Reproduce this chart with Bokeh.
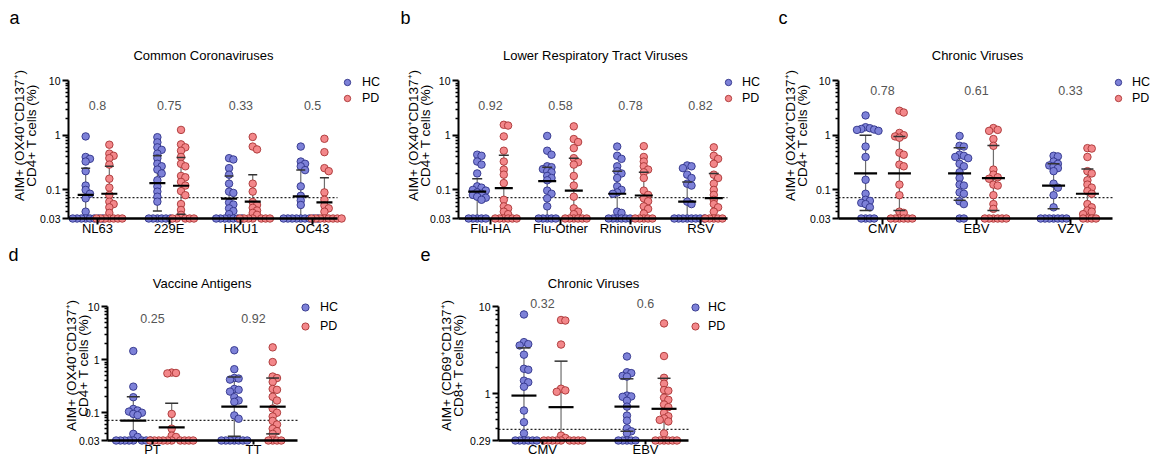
import numpy as np
from bokeh.plotting import figure
from bokeh.models import (FixedTicker, Label, Legend, LegendItem, Range1d)
from bokeh.layouts import column, row
from bokeh.embed import file_html
from bokeh.resources import INLINE

FONT = "Liberation Sans"
HC_FILL, HC_LINE = "#7d81d8", "#2f3288"
PD_FILL, PD_LINE = "#f3878a", "#a83434"

# ======================= DATA =======================
# ---- panel a : Common Coronaviruses (CD4) ----
a_categories = ["NL63", "229E", "HKU1", "OC43"]
a_pvalues = ["0.8", "0.75", "0.33", "0.5"]
a_hc = [
    [0.95, 0.40, 0.37, 0.33, 0.22, 0.12, 0.10, 0.085, 0.07, 0.04, 0.03, 0.03, 0.03, 0.03, 0.03, 0.03, 0.03, 0.03],
    [0.92, 0.74, 0.60, 0.54, 0.46, 0.38, 0.30, 0.27, 0.235, 0.20, 0.15, 0.115, 0.093, 0.075, 0.061, 0.03, 0.03, 0.03, 0.03, 0.03, 0.03],
    [0.38, 0.36, 0.25, 0.19, 0.13, 0.093, 0.088, 0.059, 0.054, 0.046, 0.041, 0.036, 0.03, 0.03, 0.03, 0.03, 0.03, 0.03, 0.03],
    [0.62, 0.33, 0.30, 0.27, 0.23, 0.116, 0.078, 0.064, 0.053, 0.03, 0.03, 0.03, 0.03, 0.03, 0.03, 0.03, 0.03, 0.03],
]
a_pd = [
    [0.67, 0.46, 0.42, 0.38, 0.29, 0.16, 0.11, 0.081, 0.061, 0.055, 0.048, 0.038, 0.03, 0.03, 0.03, 0.03, 0.03, 0.03, 0.03],
    [1.25, 0.68, 0.60, 0.52, 0.40, 0.30, 0.27, 0.18, 0.17, 0.14, 0.12, 0.095, 0.08, 0.055, 0.043, 0.035, 0.03, 0.03, 0.03, 0.03, 0.03],
    [0.93, 0.62, 0.55, 0.13, 0.093, 0.06, 0.053, 0.047, 0.042, 0.038, 0.035, 0.03, 0.03, 0.03, 0.03, 0.03, 0.03, 0.03],
    [0.86, 0.49, 0.25, 0.22, 0.09, 0.066, 0.052, 0.046, 0.04, 0.03, 0.03, 0.03, 0.03, 0.03, 0.03, 0.03, 0.03],
]
a_hc_mean = [0.081, 0.133, 0.069, 0.076]
a_hc_upper = [0.25, 0.42, 0.18, 0.23]
a_hc_lower = [0.03, 0.041, 0.03, 0.03]
a_pd_mean = [0.085, 0.119, 0.061, 0.059]
a_pd_upper = [0.27, 0.39, 0.19, 0.167]
a_pd_lower = [0.03, 0.036, 0.03, 0.03]

# ---- panel b : Lower Respiratory Tract Viruses (CD4) ----
b_categories = ["Flu-HA", "Flu-Other", "Rhinovirus", "RSV"]
b_pvalues = ["0.92", "0.58", "0.78", "0.82"]
b_hc = [
    [0.44, 0.42, 0.33, 0.29, 0.20, 0.116, 0.11, 0.10, 0.097, 0.09, 0.085, 0.081, 0.075, 0.072, 0.066, 0.03, 0.03, 0.03, 0.03, 0.03],
    [0.97, 0.52, 0.44, 0.27, 0.26, 0.24, 0.22, 0.21, 0.18, 0.165, 0.15, 0.097, 0.085, 0.07, 0.05, 0.03, 0.03, 0.03, 0.03, 0.03],
    [0.62, 0.42, 0.37, 0.27, 0.22, 0.20, 0.165, 0.116, 0.10, 0.09, 0.085, 0.04, 0.038, 0.03, 0.03, 0.03, 0.03, 0.03, 0.03],
    [0.28, 0.27, 0.25, 0.19, 0.165, 0.13, 0.12, 0.061, 0.055, 0.03, 0.03, 0.03, 0.03, 0.03, 0.03, 0.03, 0.03],
]
b_pd = [
    [1.55, 1.5, 0.95, 0.52, 0.33, 0.235, 0.19, 0.133, 0.066, 0.05, 0.046, 0.04, 0.036, 0.03, 0.03, 0.03, 0.03, 0.03, 0.03],
    [1.45, 0.85, 0.75, 0.58, 0.38, 0.32, 0.29, 0.18, 0.12, 0.075, 0.046, 0.04, 0.036, 0.03, 0.03, 0.03, 0.03, 0.03, 0.03],
    [0.63, 0.40, 0.33, 0.27, 0.235, 0.21, 0.165, 0.097, 0.081, 0.07, 0.062, 0.05, 0.045, 0.037, 0.03, 0.03, 0.03, 0.03, 0.03],
    [0.60, 0.42, 0.37, 0.30, 0.19, 0.165, 0.13, 0.10, 0.081, 0.066, 0.055, 0.048, 0.04, 0.03, 0.03, 0.03, 0.03, 0.03],
]
b_hc_mean = [0.093, 0.145, 0.085, 0.061]
b_hc_upper = [0.16, 0.26, 0.22, 0.14]
b_hc_lower = [0.03, 0.03, 0.03, 0.03]
b_pd_mean = [0.108, 0.097, 0.079, 0.071]
b_pd_upper = [0.43, 0.38, 0.21, 0.20]
b_pd_lower = [0.03, 0.03, 0.03, 0.03]

# ---- panel c : Chronic Viruses (CD4) ----
c_categories = ["CMV", "EBV", "VZV"]
c_pvalues = ["0.78", "0.61", "0.33"]
c_hc = [
    [2.3, 1.4, 1.34, 1.3, 1.27, 1.25, 1.2, 0.62, 0.40, 0.153, 0.085, 0.066, 0.063, 0.058, 0.055, 0.048, 0.03, 0.03, 0.03, 0.03],
    [0.97, 0.64, 0.62, 0.44, 0.42, 0.40, 0.38, 0.30, 0.27, 0.21, 0.165, 0.125, 0.12, 0.09, 0.085, 0.062, 0.055, 0.03, 0.03],
    [0.42, 0.41, 0.33, 0.30, 0.28, 0.27, 0.25, 0.22, 0.13, 0.11, 0.08, 0.048, 0.03, 0.03, 0.03, 0.03, 0.03, 0.03, 0.03],
]
c_pd = [
    [2.8, 2.6, 1.1, 1.0, 0.95, 0.9, 0.48, 0.44, 0.29, 0.27, 0.125, 0.08, 0.04, 0.038, 0.03, 0.03, 0.03, 0.03, 0.03, 0.03],
    [1.35, 1.25, 1.2, 0.85, 0.64, 0.235, 0.19, 0.17, 0.16, 0.125, 0.12, 0.08, 0.055, 0.045, 0.03, 0.03, 0.03, 0.03, 0.03, 0.03],
    [0.58, 0.57, 0.40, 0.22, 0.20, 0.15, 0.125, 0.11, 0.095, 0.085, 0.055, 0.048, 0.042, 0.04, 0.036, 0.03, 0.03, 0.03, 0.03],
]
c_hc_mean = [0.20, 0.20, 0.12]
c_hc_upper = [1.0, 0.59, 0.30]
c_hc_lower = [0.042, 0.065, 0.045]
c_pd_mean = [0.20, 0.164, 0.085]
c_pd_upper = [0.95, 0.65, 0.24]
c_pd_lower = [0.042, 0.042, 0.03]

# ---- panel d : Vaccine Antigens (CD4) ----
d_categories = ["PT", "TT"]
d_pvalues = ["0.25", "0.92"]
d_hc = [
    [1.45, 0.31, 0.196, 0.118, 0.11, 0.105, 0.10, 0.095, 0.09, 0.04, 0.035, 0.03, 0.03, 0.03, 0.03, 0.03, 0.03, 0.03, 0.03],
    [1.5, 0.66, 0.45, 0.44, 0.42, 0.28, 0.27, 0.25, 0.196, 0.17, 0.16, 0.089, 0.077, 0.03, 0.03, 0.03, 0.03, 0.03, 0.03, 0.03],
]
d_pd = [
    [0.57, 0.56, 0.55, 0.095, 0.05, 0.037, 0.035, 0.03, 0.03, 0.03, 0.03, 0.03, 0.03, 0.03, 0.03, 0.03, 0.03],
    [1.7, 0.9, 0.48, 0.45, 0.38, 0.28, 0.27, 0.20, 0.17, 0.12, 0.10, 0.085, 0.07, 0.06, 0.05, 0.045, 0.04, 0.03, 0.03, 0.03, 0.03],
]
d_hc_mean = [0.071, 0.13]
d_hc_upper = [0.20, 0.47]
d_hc_lower = [0.03, 0.036]
d_pd_mean = [0.053, 0.13]
d_pd_upper = [0.15, 0.45]
d_pd_lower = [0.03, 0.04]

# ---- panel e : Chronic Viruses (CD8) ----
e_categories = ["CMV", "EBV"]
e_pvalues = ["0.32", "0.6"]
e_hc = [
    [8.1, 3.9, 3.7, 3.57, 2.8, 1.93, 1.88, 1.41, 1.35, 1.2, 0.64, 0.47, 0.35, 0.29, 0.29, 0.29, 0.29, 0.29, 0.29],
    [2.67, 1.76, 1.72, 1.6, 1.57, 0.95, 0.93, 0.92, 0.83, 0.71, 0.56, 0.49, 0.40, 0.37, 0.35, 0.29, 0.29, 0.29, 0.29, 0.29],
]
e_pd = [
    [7.0, 6.9, 3.66, 1.14, 1.09, 1.05, 0.33, 0.31, 0.29, 0.29, 0.29, 0.29, 0.29, 0.29, 0.29, 0.29, 0.29],
    [6.4, 2.7, 1.52, 1.3, 1.1, 1.08, 0.9, 0.85, 0.75, 0.7, 0.6, 0.55, 0.52, 0.5, 0.48, 0.35, 0.29, 0.29, 0.29, 0.29, 0.29, 0.29],
]
e_hc_mean = [0.95, 0.71]
e_hc_upper = [3.35, 1.48]
e_hc_lower = [0.29, 0.37]
e_pd_mean = [0.70, 0.67]
e_pd_upper = [2.36, 1.50]
e_pd_lower = [0.29, 0.29]

cd4_label = ["AIM+ (OX40\u207aCD137\u207a)", "CD4+ T cells (%)"]
cd8_label = ["AIM+ (CD69\u207aCD137\u207a)", "CD8+ T cells (%)"]
top_yticks = [0.03, 0.1, 1, 10]
top_yminor = [0.04, 0.05, 0.06, 0.07, 0.08, 0.09, 0.2, 0.3, 0.4, 0.5, 0.6, 0.7, 0.8, 0.9, 2, 3, 4, 5, 6, 7, 8, 9]
e_yticks = [0.29, 1, 10]
e_yminor = [0.4, 0.5, 0.6, 0.7, 0.8, 0.9, 2, 3, 4, 5, 6, 7, 8, 9]
cd4_threshold = 0.072
cd8_threshold = 0.39

# ======================= LAYOUT (picture pixels) =======================
# fx,fy,fw,fh: figure box; L: y-axis x; R: x-axis end; C0: first category x; PU: px per category;
# T: y of 10; B: y of axis minimum; pval_px: y of the p-value row
specs = {
    "a": dict(fx=0, fy=0, fw=388, fh=240, L=68, R=337, C0=97, PU=71.7, T=80, B=218,
              goff=0.165, mean_px=8, cap_px=4.5, pval_px=105, letter=(9, 17), title="Common Coronaviruses",
              title_xy=(203, 55), ylab_x=(19, 31), ylab_y=135, leg=(347, 82, 98, 362), std=2, tick=6, gh=16),
    "b": dict(fx=388, fy=0, fw=380, fh=240, L=458, R=727, C0=490, PU=70, T=80, B=218,
              goff=0.19, mean_px=9, cap_px=5, pval_px=105, letter=(400, 17), title="Lower Respiratory Tract Viruses",
              title_xy=(595, 55), ylab_x=(413, 425), ylab_y=135, leg=(728, 82, 98, 742), std=2, tick=6, gh=16),
    "c": dict(fx=768, fy=0, fw=392, fh=240, L=838, R=1112, C0=882, PU=94, T=80, B=218,
              goff=0.18, mean_px=11.5, cap_px=6, pval_px=90, letter=(778, 17), title="Chronic Viruses",
              title_xy=(977, 55), ylab_x=(790, 802), ylab_y=135, leg=(1118, 82, 98, 1132), std=2, tick=6, gh=16),
    "d": dict(fx=0, fy=240, fw=388, fh=220, L=107, R=297, C0=152, PU=101, T=306, B=440,
              goff=0.19, mean_px=13, cap_px=6.5, pval_px=318, letter=(8, 254), title="Vaccine Antigens",
              title_xy=(202, 283), ylab_x=(71, 83), ylab_y=365, leg=(305, 307, 326, 320), std=1, tick=4, gh=18),
    "e": dict(fx=388, fy=240, fw=380, fh=220, L=498, R=688, C0=542, PU=103, T=306, B=440,
              goff=0.18, mean_px=12.5, cap_px=6.5, pval_px=303, letter=(420, 254), title="Chronic Viruses",
              title_xy=(593, 283), ylab_x=(446, 458), ylab_y=365, leg=(695, 307, 326, 708), std=1, tick=4, gh=18),
}


def swarm_offsets(vals, ppd, ymin, d=4.3):
    py = (np.log10(np.asarray(vals, float)) - np.log10(ymin)) * ppd
    order = np.argsort(-py, kind="stable")
    placed = []
    offs = np.zeros(len(py))
    cands = [0.0]
    for j in range(1, 40):
        cands += [j * d, -j * d]
    for i in order:
        for c in cands:
            if all((c - ox) ** 2 + (py[i] - oy) ** 2 >= d * d - 1e-9 for ox, oy in placed):
                break
        offs[i] = c
        placed.append((c, py[i]))
    return offs


def build(letter, cats, pvals, hc, pdv, hcs, pds, ylab, yticks, yminor, ymin, thr):
    s = specs[letter]
    ytop = 10.0
    ppd = (s["B"] - s["T"]) / (np.log10(ytop) - np.log10(ymin))
    ppu = s["PU"]
    y_start = 10 ** (np.log10(ymin) - (s["fy"] + s["fh"] - s["B"]) / ppd)
    y_end = 10 ** (np.log10(ytop) + (s["T"] - s["fy"]) / ppd)
    x_start = (s["fx"] - s["C0"]) / ppu
    x_end = (s["fx"] + s["fw"] - s["C0"]) / ppu
    xL = (s["L"] - s["C0"]) / ppu
    xR = (s["R"] - s["C0"]) / ppu

    p = figure(width=s["fw"], height=s["fh"], y_axis_type="log",
               x_range=Range1d(x_start, x_end), y_range=Range1d(y_start, y_end),
               output_backend="svg", toolbar_location=None,
               min_border_left=0, min_border_right=0, min_border_top=0, min_border_bottom=0)
    p.outline_line_color = None
    p.xgrid.visible = False
    p.ygrid.visible = False
    p.background_fill_color = "white"
    p.border_fill_color = "white"

    def rel(px, py):
        return px - s["fx"], (s["fy"] + s["fh"]) - py

    # threshold (dotted) line across the axis extent
    p.segment(x0=[xL], y0=[thr], x1=[xR], y1=[thr], line_color="#222222",
              line_width=1.2, line_dash="2 2")

    groups = [(hc, hcs, -s["goff"], HC_FILL, HC_LINE), (pdv, pds, s["goff"], PD_FILL, PD_LINE)]
    rends = []
    for vals_list, stats, off, fill, line in groups:
        xs, ys = [], []
        ex, elo, ehi = [], [], []
        mx0, mx1, my = [], [], []
        cx0, cx1, cy = [], [], []
        means, ups, lows = stats
        for i, vals in enumerate(vals_list):
            xc = i + off
            so = swarm_offsets(vals, ppd, ymin)
            xs += list(xc + so / ppu)
            ys += list(vals)
            ex.append(xc)
            elo.append(lows[i])
            ehi.append(ups[i])
            mx0.append(xc - s["mean_px"] / ppu)
            mx1.append(xc + s["mean_px"] / ppu)
            my.append(means[i])
            cx0.append(xc - s["cap_px"] / ppu)
            cx1.append(xc + s["cap_px"] / ppu)
            cy.append(ups[i])
            if lows[i] > ymin * 1.01:
                cx0.append(xc - s["cap_px"] / ppu)
                cx1.append(xc + s["cap_px"] / ppu)
                cy.append(lows[i])
        p.segment(x0=ex, y0=elo, x1=ex, y1=ehi, line_color="#6e6e6e", line_width=1.2)
        r = p.scatter(x=xs, y=ys, size=7.5, marker="circle", fill_color=fill,
                      line_color=line, line_width=0.9)
        rends.append(r)
        p.segment(x0=cx0, y0=cy, x1=cx1, y1=cy, line_color="#333333", line_width=1.5)
        p.segment(x0=mx0, y0=my, x1=mx1, y1=my, line_color="black", line_width=2.2)

    # x axis (fixed at the axis minimum, bounded to the plotted extent)
    xa = p.xaxis[0]
    xa.ticker = FixedTicker(ticks=list(range(len(cats))), minor_ticks=[])
    xa.major_label_overrides = {i: c for i, c in enumerate(cats)}
    xa.fixed_location = ymin
    xa.bounds = (xL, xR)
    xa.axis_line_width = 2.5
    xa.axis_line_color = "black"
    xa.major_tick_line_width = 2
    xa.major_tick_out = 0
    xa.major_tick_in = -s["tick"]
    xa.minor_tick_line_color = None
    xa.major_label_standoff = s["std"]
    xa.major_label_text_font = FONT
    xa.major_label_text_font_size = "13px"
    xa.major_label_text_color = "black"

    # y axis
    ya = p.yaxis[0]
    ya.ticker = FixedTicker(ticks=yticks, minor_ticks=yminor)
    ya.major_label_overrides = {t: str(t) for t in yticks}
    ya.fixed_location = xL
    ya.bounds = (ymin, ytop)
    ya.axis_line_width = 2
    ya.axis_line_color = "black"
    ya.major_tick_out = 6
    ya.major_tick_in = 0
    ya.major_tick_line_width = 2
    ya.minor_tick_out = 3
    ya.minor_tick_in = 0
    ya.minor_tick_line_width = 1.5
    ya.major_label_standoff = 2
    ya.major_label_text_font = FONT
    ya.major_label_text_font_size = "10.5px"
    ya.major_label_text_color = "black"

    # p values (one row above the columns, centred on each category)
    for i, pv in enumerate(pvals):
        px, py = rel(s["C0"] + i * ppu, s["pval_px"])
        p.add_layout(Label(x=px, y=py, x_units="screen", y_units="screen", text=pv,
                           text_font=FONT, text_font_size="12.5px",
                           text_color="#555555", text_align="center", text_baseline="middle"))

    # panel letter and title
    lx, ly = rel(*s["letter"])
    p.add_layout(Label(x=lx, y=ly, x_units="screen", y_units="screen", text=letter,
                       text_font=FONT, text_font_size="18px", text_align="left",
                       text_baseline="middle", text_color="black"))
    tx, ty = rel(*s["title_xy"])
    p.add_layout(Label(x=tx, y=ty, x_units="screen", y_units="screen", text=s["title"],
                       text_font=FONT, text_font_size="13px", text_align="center",
                       text_baseline="middle", text_color="black"))
    # y-axis title (two lines)
    for k, txt in enumerate(ylab):
        yx, yy = rel(s["ylab_x"][k], s["ylab_y"])
        p.add_layout(Label(x=yx, y=yy, x_units="screen", y_units="screen", text=txt,
                           angle=np.pi / 2, text_font=FONT, text_font_size="13.5px",
                           text_align="center", text_baseline="middle", text_color="black"))

    # legend
    mx, my1, my2, txx = s["leg"]
    gw = 18
    gh = s["gh"]
    sp = max(0, int(round((my2 - my1) - gh)))
    left = mx - gw / 2
    top = my1 - gh / 2
    height = 2 * gh + sp
    vx = left - s["fx"]
    vy = (s["fy"] + s["fh"]) - (top + height)
    leg = Legend(items=[LegendItem(label="HC", renderers=[rends[0]]),
                        LegendItem(label="PD", renderers=[rends[1]])],
                 location=(vx, vy), orientation="vertical",
                 glyph_width=gw, glyph_height=gh, label_height=gh, label_width=10,
                 label_standoff=int(round(txx - (mx + gw / 2))), spacing=sp,
                 padding=0, margin=0, border_line_color=None, background_fill_alpha=0,
                 label_text_font=FONT, label_text_font_size="12.5px", label_text_color="black")
    p.add_layout(leg)
    return p


pa = build("a", a_categories, a_pvalues, a_hc, a_pd,
           (a_hc_mean, a_hc_upper, a_hc_lower), (a_pd_mean, a_pd_upper, a_pd_lower),
           cd4_label, top_yticks, top_yminor, 0.03, cd4_threshold)
pb = build("b", b_categories, b_pvalues, b_hc, b_pd,
           (b_hc_mean, b_hc_upper, b_hc_lower), (b_pd_mean, b_pd_upper, b_pd_lower),
           cd4_label, top_yticks, top_yminor, 0.03, cd4_threshold)
pc = build("c", c_categories, c_pvalues, c_hc, c_pd,
           (c_hc_mean, c_hc_upper, c_hc_lower), (c_pd_mean, c_pd_upper, c_pd_lower),
           cd4_label, top_yticks, top_yminor, 0.03, cd4_threshold)
pdd = build("d", d_categories, d_pvalues, d_hc, d_pd,
            (d_hc_mean, d_hc_upper, d_hc_lower), (d_pd_mean, d_pd_upper, d_pd_lower),
            cd4_label, top_yticks, top_yminor, 0.03, cd4_threshold)
pe = build("e", e_categories, e_pvalues, e_hc, e_pd,
           (e_hc_mean, e_hc_upper, e_hc_lower), (e_pd_mean, e_pd_upper, e_pd_lower),
           cd8_label, e_yticks, e_yminor, 0.29, cd8_threshold)

layout = column(row(pa, pb, pc), row(pdd, pe))
open("out.html", "w").write(file_html(layout, INLINE))
